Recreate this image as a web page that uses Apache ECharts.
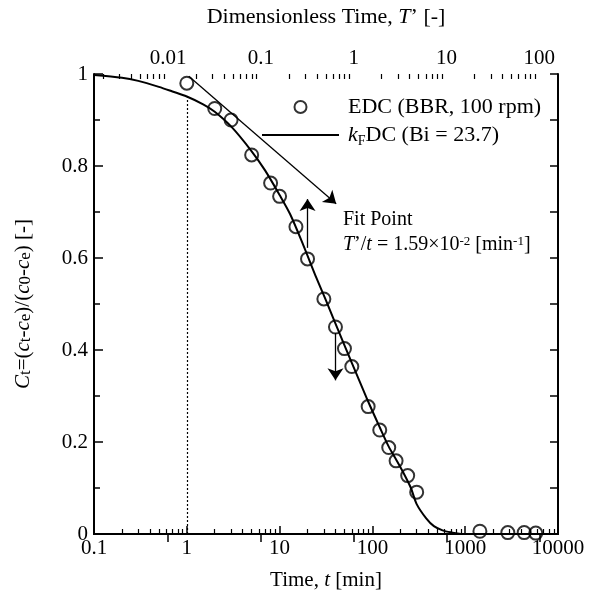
<!DOCTYPE html>
<html>
<head>
<meta charset="utf-8">
<script src="https://cdn.jsdelivr.net/npm/echarts@6/dist/echarts.min.js"></script>
<style>
  html, body { margin: 0; padding: 0; background: #fff; }
  #chart { width: 590px; height: 596px; }
</style>
</head>
<body>
<div id="chart"></div>
<script>
// measured points, EDC (BBR, 100 rpm)
const edcTime = [1, 2, 3, 5, 8, 10, 15, 20, 30, 40, 50, 60, 90, 120, 150, 180, 240, 300, 1440, 2880, 4320, 5760]
const edcValue = [0.98, 0.925, 0.9, 0.824, 0.763, 0.734, 0.668, 0.598, 0.511, 0.45, 0.403, 0.364, 0.277, 0.226, 0.188, 0.159, 0.127, 0.091, 0.006, 0.003, 0.003, 0.002]

// model curve, kFDC (Bi = 23.7)
const fitTime = [0.1, 0.2, 0.3, 0.5, 0.7, 1, 1.5, 2, 3, 5, 7, 10, 13, 18, 25, 32, 44, 60, 90, 120, 150, 180, 220, 260, 300, 380, 460, 570, 730, 900]
const fitValue = [0.998, 0.992, 0.985, 0.972, 0.962, 0.951, 0.934, 0.918, 0.886, 0.832, 0.79, 0.737, 0.695, 0.628, 0.556, 0.505, 0.437, 0.372, 0.288, 0.232, 0.19, 0.162, 0.13, 0.1, 0.065, 0.034, 0.017, 0.008, 0.003, 0]

// T'/t = 1.59e-2 min^-1
const fitRatio = 0.0159
const timeRange = [0.1, 10000]
const topTickLabels = [0.01, 0.1, 1, 10, 100]

const FONT = 'Liberation Serif'

// minor ticks of the top (T') axis: 2..9 in every decade
const topMinorTicks = []
for (let e = -3; e <= 2; e++) {
  for (let k = 2; k <= 9; k++) topMinorTicks.push(+(k * Math.pow(10, e)).toPrecision(3))
}

const rich = {
  i: { fontFamily: FONT, fontSize: 21, fontStyle: 'italic', color: '#000' },
  s: { fontFamily: FONT, fontSize: 17, color: '#000', verticalAlign: 'bottom' }
}

const chart = echarts.init(document.getElementById('chart'), null, { renderer: 'canvas' })

const option = {
  animation: false,
  backgroundColor: '#fff',
  textStyle: { fontFamily: FONT, color: '#000' },
  grid: { left: 94, top: 74, width: 464, height: 464 },
  legend: {
    orient: 'vertical',
    left: 256,
    top: 89,
    itemWidth: 77,
    itemHeight: 12,
    itemGap: 2,
    selectedMode: false,
    data: [
      'EDC (BBR, 100 rpm)',
      { name: 'kFDC (Bi = 23.7)', itemStyle: { color: 'rgba(0,0,0,0)', borderColor: 'rgba(0,0,0,0)', opacity: 0 } }
    ],
    formatter: name => name === 'kFDC (Bi = 23.7)' ? '{i|k}{f|F}DC (Bi = 23.7)' : name,
    textStyle: {
      fontFamily: FONT, fontSize: 22, color: '#000', lineHeight: 26, padding: [0, 0, 0, 4],
      rich: {
        i: { fontFamily: FONT, fontSize: 22, fontStyle: 'italic', color: '#000' },
        f: { fontFamily: FONT, fontSize: 14, color: '#000', verticalAlign: 'bottom', lineHeight: 22 }
      }
    }
  },
  xAxis: [
    {
      type: 'log',
      logBase: 10,
      min: timeRange[0],
      max: timeRange[1],
      position: 'bottom',
      name: 'Time, {i|t} [min]',
      nameLocation: 'middle',
      nameGap: 36,
      nameTextStyle: { fontFamily: FONT, fontSize: 21, color: '#000', rich },
      axisLine: { lineStyle: { color: '#000', width: 2 } },
      axisTick: { inside: true, length: 8, lineStyle: { color: '#000', width: 1.5 } },
      minorTick: { show: true, splitNumber: 9, length: 5, lineStyle: { color: '#000', width: 1.2 } },
      axisLabel: { margin: 4, fontFamily: FONT, fontSize: 21, color: '#000', formatter: v => String(v) },
      splitLine: { show: false },
      minorSplitLine: { show: false }
    },
    {
      type: 'log',
      logBase: 10,
      min: timeRange[0] * fitRatio,
      max: timeRange[1] * fitRatio,
      position: 'top',
      name: 'Dimensionless Time, {i|T}’ [-]',
      nameLocation: 'middle',
      nameGap: 46,
      nameTextStyle: { fontFamily: FONT, fontSize: 22, color: '#000', rich: { i: { fontFamily: FONT, fontSize: 22, fontStyle: 'italic', color: '#000' } } },
      axisLine: { lineStyle: { color: '#000', width: 2 } },
      axisTick: { inside: true, length: 8, customValues: topTickLabels, lineStyle: { color: '#000', width: 1.5 } },
      axisLabel: { margin: 5, fontFamily: FONT, fontSize: 21, color: '#000', customValues: topTickLabels, formatter: v => String(+v.toPrecision(3)) },
      splitLine: { show: false }
    },
    {
      type: 'log',
      logBase: 10,
      min: timeRange[0] * fitRatio,
      max: timeRange[1] * fitRatio,
      position: 'top',
      axisLine: { show: false },
      axisTick: { inside: true, length: 5, customValues: topMinorTicks, lineStyle: { color: '#000', width: 1.2 } },
      axisLabel: { show: false },
      splitLine: { show: false }
    }
  ],
  yAxis: [
    {
      type: 'value',
      min: 0,
      max: 1,
      interval: 0.2,
      position: 'left',
      name: '{i|C}{s|t}=({i|c}{s|t}-{i|c}{s|e})/({i|c}{s|0}-{i|c}{s|e}) [-]',
      nameLocation: 'middle',
      nameGap: 60,
      nameTextStyle: { fontFamily: FONT, fontSize: 21, color: '#000', rich },
      axisLine: { lineStyle: { color: '#000', width: 2 } },
      axisTick: { inside: true, length: 9, lineStyle: { color: '#000', width: 1.5 } },
      minorTick: { show: true, splitNumber: 2, length: 6, lineStyle: { color: '#000', width: 1.5 } },
      axisLabel: { margin: 6, fontFamily: FONT, fontSize: 21, color: '#000' },
      splitLine: { show: false },
      minorSplitLine: { show: false }
    },
    {
      type: 'value',
      min: 0,
      max: 1,
      interval: 0.1,
      position: 'right',
      axisLine: { lineStyle: { color: '#000', width: 2 } },
      axisTick: { inside: true, length: 8, lineStyle: { color: '#000', width: 1.5 } },
      axisLabel: { show: false },
      splitLine: { show: false }
    }
  ],
  series: [
    {
      name: 'kFDC (Bi = 23.7)',
      type: 'line',
      xAxisIndex: 0,
      yAxisIndex: 0,
      data: fitTime.map((t, i) => [t, fitValue[i]]),
      smooth: 0.3,
      symbol: 'none',
      lineStyle: { color: '#000', width: 2 },
      itemStyle: { color: '#000' },
      markLine: {
        silent: true,
        symbol: 'none',
        label: { show: false },
        lineStyle: { color: '#000', width: 1.2, type: [2, 2] },
        data: [[{ coord: [1, 0] }, { coord: [1, 0.95] }]]
      },
      z: 2
    },
    {
      name: 'EDC (BBR, 100 rpm)',
      type: 'scatter',
      xAxisIndex: 0,
      yAxisIndex: 0,
      data: edcTime.map((t, i) => [t, edcValue[i]]),
      symbol: 'circle',
      symbolSize: 13,
      itemStyle: { color: 'rgba(0,0,0,0)', borderColor: '#000', borderWidth: 2 },
      markLine: {
        silent: true,
        symbol: ['none', 'arrow'],
        symbolSize: 12,
        label: { show: false },
        lineStyle: { color: '#000', width: 1.3, type: 'solid' },
        data: [
          [{ coord: [1.05, 0.995] }, { coord: [40.7, 0.718] }],
          [{ coord: [20, 0.622] }, { coord: [20, 0.728] }],
          [{ coord: [40, 0.437] }, { coord: [40, 0.334] }]
        ]
      },
      z: 3
    }
  ],
  graphic: [
    {
      type: 'text',
      x: 343,
      y: 220,
      style: { text: 'Fit Point', fontFamily: FONT, fontSize: 20, fill: '#000', verticalAlign: 'middle' }
    },
    {
      type: 'text',
      x: 343,
      y: 245,
      style: {
        text: '{i|T}’/{i|t} = 1.59×10{p|-2} [min{p|-1}]',
        fontFamily: FONT, fontSize: 20, fill: '#000', verticalAlign: 'middle',
        rich: {
          i: { fontFamily: FONT, fontSize: 20, fontStyle: 'italic', fill: '#000' },
          p: { fontFamily: FONT, fontSize: 13, fill: '#000', verticalAlign: 'top' }
        }
      }
    }
  ]
}

chart.setOption(option)
</script>
</body>
</html>
